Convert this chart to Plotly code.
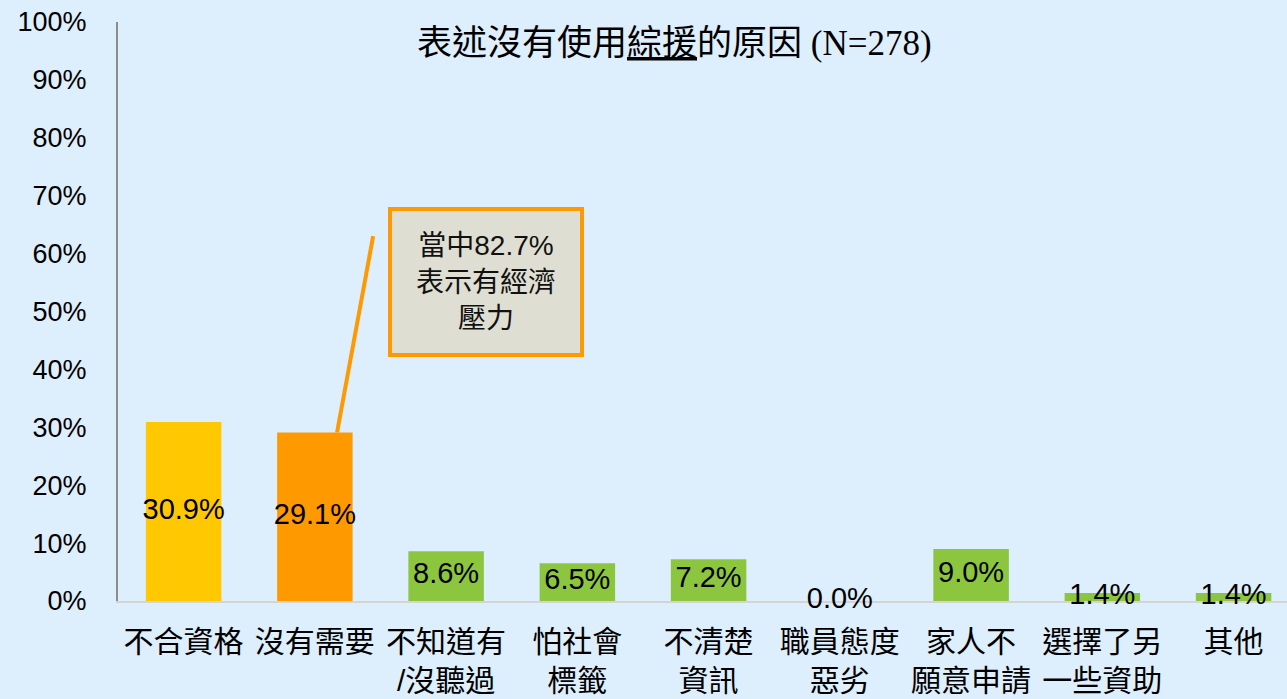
import plotly.graph_objects as go

# Reasons given for not using CSSA (N=278)
categories = [
    "不合資格", "沒有需要", "不知道有<br>/沒聽過", "怕社會<br>標籤", "不清楚<br>資訊",
    "職員態度<br>惡劣", "家人不<br>願意申請", "選擇了另<br>一些資助", "其他",
]
shares = [30.9, 29.1, 8.6, 6.5, 7.2, 0.0, 9.0, 1.4, 1.4]
bar_colors = ["#FFC800", "#FF9900"] + ["#8CC63F"] * 7
y_ticks = [0, 10, 20, 30, 40, 50, 60, 70, 80, 90, 100]
y_tick_text = [f"{v}%" for v in y_ticks]
callout_text = "當中82.7%<br>表示有經濟<br>壓力"
title_text = "表述沒有使用<u>綜援</u>的原因 (N=278)"

BG = "#DDEEFD"
SANS = "Liberation Sans, Arial, Noto Sans CJK TC"
SERIF = "Liberation Serif, Times New Roman, Noto Sans CJK TC"

idx = list(range(len(categories)))
vals = [v / 100 for v in shares]

fig = go.Figure()
fig.add_trace(go.Bar(
    x=idx, y=vals, marker=dict(color=bar_colors, line=dict(width=0)),
    width=0.575, hoverinfo="skip", showlegend=False,
))
# value labels centred on each bar
fig.add_trace(go.Scatter(
    x=idx, y=[v / 2 for v in vals], mode="text",
    text=[f"{s:.1f}%" for s in shares],
    textfont=dict(family=SANS, size=29, color="#000000"),
    cliponaxis=False, hoverinfo="skip", showlegend=False,
))

# leader line from the callout down to the "沒有需要" bar
fig.add_shape(type="line", xref="x", yref="y",
              x0=1.444, y0=0.630, x1=1.169, y1=vals[1],
              line=dict(color="#FF9900", width=4))

fig.add_annotation(
    x=0.3149, y=0.551, xref="paper", yref="y", showarrow=False,
    text=callout_text, align="center",
    font=dict(family=SANS, size=28, color="#111111"),
    bgcolor="#DEDED2", bordercolor="#FF9900", borderwidth=4, borderpad=0,
    width=188, height=142, xanchor="center", yanchor="middle",
)

fig.add_annotation(
    x=0.4757, y=1.0, xref="paper", yref="paper", showarrow=False,
    text=title_text, font=dict(family=SERIF, size=35, color="#000000"),
    xanchor="center", yanchor="middle", yshift=-21,
)

fig.update_layout(
    width=1287, height=699,
    margin=dict(l=118, r=0, t=22, b=98),
    paper_bgcolor=BG, plot_bgcolor=BG,
    bargap=0.42,
    xaxis=dict(
        range=[-0.5, 8.407], tickmode="array", tickvals=idx, ticktext=categories,
        tickfont=dict(family=SANS, size=30, color="#000000"),
        showline=True, linecolor="#D4D4D4", linewidth=2, layer="below traces",
        showgrid=False, zeroline=False, ticks="", ticklabelstandoff=13,
    ),
    yaxis=dict(
        range=[0, 1], tickmode="array", tickvals=[v / 100 for v in y_ticks],
        ticktext=y_tick_text,
        tickfont=dict(family=SANS, size=27, color="#000000"),
        showline=True, linecolor="#8C8C8C", linewidth=2, layer="below traces",
        showgrid=False, zeroline=False, ticks="", ticklabelstandoff=24,
    ),
)

fig.write_html("out.html")
